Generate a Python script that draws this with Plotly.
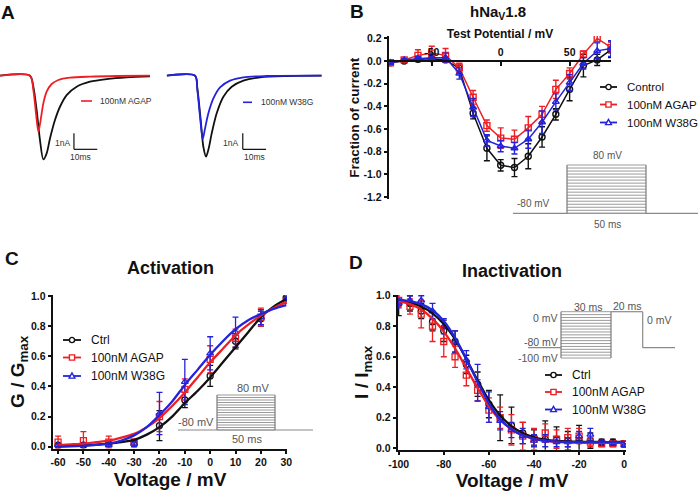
import plotly.graph_objects as go

W, H = 700, 495
FONT = "Liberation Sans, Arial, sans-serif"
BLACK = "#111111"
RED = "#ee1f24"
BLUE = "#2323dd"
GRAY = "#8a8a8a"

# ---------------- data ----------------
# Panel A: example current traces (time in ms, current in nA)
a_left_ctrl_t = [0, 12.86, 14.29, 15.71, 17.14, 18.57, 20.0, 21.43, 23.57, 25.71, 28.57, 32.86, 38.57, 45.71, 54.29, 64.29]
a_left_ctrl_i = [0, 0, -0.69, -2.15, -4.02, -5.23, -4.85, -3.92, -2.77, -1.94, -1.21, -0.69, -0.375, -0.21, -0.10, -0.04]
a_left_agap_t = [0, 12.86, 14.29, 15.43, 16.43, 17.43, 18.57, 20.0, 22.14, 25.0, 30.0, 38.57, 50.0, 64.29]
a_left_agap_i = [0, 0, -0.90, -2.35, -3.50, -2.77, -1.73, -1.00, -0.52, -0.27, -0.125, -0.06, -0.02, 0]
a_right_ctrl_t = [0, 12.14, 13.14, 14.57, 15.71, 16.86, 18.0, 19.29, 21.43, 24.29, 27.86, 32.86, 40.0, 51.43, 66.43]
a_right_ctrl_i = [0, 0, -0.79, -2.77, -4.44, -5.06, -4.54, -3.60, -2.35, -1.31, -0.69, -0.31, -0.10, -0.02, 0]
a_right_w38g_t = [0, 12.14, 13.14, 14.29, 15.43, 16.43, 17.86, 20.0, 22.86, 27.14, 32.86, 42.86, 66.43]
a_right_w38g_i = [0, 0, -0.90, -2.56, -3.96, -3.29, -2.35, -1.42, -0.73, -0.31, -0.10, -0.02, 0]

# Panel B: I-V relationship
b_v = [-80, -70, -60, -50, -40, -30, -20, -10, 0, 10, 20, 30, 40, 50, 60, 70, 80]
b_ctrl = [-0.015, 0.0, 0.015, 0.02, 0.01, -0.065, -0.46, -0.77, -0.92, -0.94, -0.84, -0.67, -0.47, -0.25, -0.04, 0.01, 0.10]
b_ctrl_err = [0.01, 0.01, 0.02, 0.02, 0.02, 0.04, 0.05, 0.11, 0.05, 0.08, 0.11, 0.09, 0.05, 0.10, 0.10, 0.05, 0.07]
b_agap = [-0.015, 0.01, 0.05, 0.07, 0.05, -0.06, -0.32, -0.57, -0.68, -0.69, -0.59, -0.47, -0.25, -0.11, 0.06, 0.20, 0.12]
b_agap_err = [0.01, 0.01, 0.05, 0.06, 0.06, 0.04, 0.06, 0.05, 0.09, 0.08, 0.10, 0.07, 0.08, 0.05, 0.03, 0.03, 0.05]
b_w38g = [-0.015, 0.01, 0.02, 0.03, 0.03, -0.11, -0.41, -0.70, -0.75, -0.77, -0.69, -0.54, -0.36, -0.19, -0.02, 0.09, 0.11]
b_w38g_err = [0.01, 0.01, 0.02, 0.03, 0.04, 0.05, 0.08, 0.05, 0.05, 0.05, 0.08, 0.10, 0.07, 0.07, 0.05, 0.07, 0.07]
b_xticks = [-50, 0, 50]
b_xticktext = ["-50", "0", "50"]
b_yticks = [0.2, 0.0, -0.2, -0.4, -0.6, -0.8, -1.0, -1.2]
b_yticktext = ["0.2", "0.0", "-0.2", "-0.4", "-0.6", "-0.8", "-1.0", "-1.2"]

# Panel C: activation
c_v = [-60, -50, -40, -30, -20, -10, 0, 10, 20, 30]
c_ctrl = [0.01, 0.01, 0.02, 0.02, 0.14, 0.31, 0.47, 0.70, 0.85, 0.99]
c_ctrl_err = [0.01, 0.01, 0.01, 0.02, 0.10, 0.05, 0.07, 0.05, 0.05, 0.01]
c_agap = [0.03, 0.04, 0.03, 0.03, 0.20, 0.38, 0.58, 0.72, 0.86, 0.97]
c_agap_err = [0.04, 0.06, 0.04, 0.02, 0.10, 0.07, 0.09, 0.06, 0.06, 0.01]
c_w38g = [0.01, 0.01, 0.01, 0.02, 0.22, 0.43, 0.62, 0.76, 0.86, 0.98]
c_w38g_err = [0.01, 0.01, 0.01, 0.02, 0.14, 0.15, 0.11, 0.10, 0.05, 0.01]
c_fit_v = [-60, -55, -50, -45, -40, -35, -30, -25, -20, -15, -10, -5, 0, 5, 10, 15, 20, 25, 30]
c_fit_ctrl = [0.003, 0.005, 0.008, 0.013, 0.02, 0.03, 0.045, 0.08, 0.13, 0.20, 0.29, 0.37, 0.46, 0.56, 0.66, 0.76, 0.86, 0.93, 0.98]
c_fit_agap = [0.01, 0.015, 0.02, 0.03, 0.04, 0.06, 0.085, 0.13, 0.19, 0.27, 0.36, 0.46, 0.56, 0.65, 0.74, 0.81, 0.87, 0.92, 0.96]
c_fit_w38g = [0.0, 0.002, 0.006, 0.012, 0.02, 0.04, 0.075, 0.13, 0.21, 0.30, 0.41, 0.51, 0.61, 0.70, 0.78, 0.84, 0.88, 0.915, 0.94]
c_xticks = [-60, -50, -40, -30, -20, -10, 0, 10, 20, 30]
c_xticktext = ["-60", "-50", "-40", "-30", "-20", "-10", "0", "10", "20", "30"]
frac_ticks = [0.0, 0.2, 0.4, 0.6, 0.8, 1.0]
frac_ticktext = ["0.0", "0.2", "0.4", "0.6", "0.8", "1.0"]

# Panel D: steady-state inactivation
d_v = [-100, -95, -90, -85, -80, -75, -70, -65, -60, -55, -50, -45, -40, -35, -30, -25, -20, -15, -10, -5, 0]
d_ctrl = [0.95, 0.95, 0.90, 0.83, 0.77, 0.70, 0.55, 0.42, 0.29, 0.20, 0.15, 0.10, 0.07, 0.06, 0.06, 0.05, 0.05, 0.05, 0.04, 0.04, 0.03]
d_ctrl_err = [0.08, 0.05, 0.05, 0.06, 0.07, 0.07, 0.06, 0.08, 0.09, 0.15, 0.12, 0.07, 0.05, 0.12, 0.08, 0.06, 0.10, 0.05, 0.02, 0.02, 0.02]
d_agap = [0.97, 0.93, 0.88, 0.80, 0.70, 0.60, 0.48, 0.38, 0.25, 0.20, 0.12, 0.08, 0.06, 0.10, 0.06, 0.07, 0.08, 0.04, 0.03, 0.03, 0.03]
d_agap_err = [0.04, 0.05, 0.09, 0.10, 0.10, 0.07, 0.07, 0.07, 0.08, 0.07, 0.10, 0.09, 0.07, 0.06, 0.06, 0.06, 0.05, 0.03, 0.02, 0.02, 0.02]
d_w38g = [0.95, 0.97, 0.97, 0.90, 0.80, 0.70, 0.58, 0.43, 0.27, 0.18, 0.12, 0.08, 0.05, 0.05, 0.04, 0.04, 0.08, 0.09, 0.04, 0.03, 0.02]
d_w38g_err = [0.03, 0.03, 0.03, 0.05, 0.05, 0.07, 0.06, 0.12, 0.10, 0.06, 0.05, 0.05, 0.04, 0.04, 0.03, 0.03, 0.03, 0.04, 0.01, 0.01, 0.01]
d_fit_ctrl = [0.97, 0.955, 0.93, 0.885, 0.815, 0.715, 0.585, 0.445, 0.315, 0.215, 0.145, 0.10, 0.072, 0.057, 0.049, 0.045, 0.043, 0.042, 0.041, 0.041, 0.041]
d_fit_agap = [0.965, 0.945, 0.91, 0.85, 0.765, 0.655, 0.525, 0.395, 0.275, 0.185, 0.125, 0.085, 0.062, 0.049, 0.042, 0.038, 0.036, 0.035, 0.035, 0.035, 0.035]
d_fit_w38g = [0.975, 0.965, 0.945, 0.905, 0.835, 0.725, 0.585, 0.435, 0.295, 0.19, 0.125, 0.085, 0.062, 0.05, 0.044, 0.041, 0.04, 0.04, 0.04, 0.04, 0.04]
d_xticks = [-100, -80, -60, -40, -20, 0]
d_xticktext = ["-100", "-80", "-60", "-40", "-20", "0"]

legend_names = ["Control", "100nM AGAP", "100nM W38G"]
legend_names_short = ["Ctrl", "100nM AGAP", "100nM W38G"]


# ---------------- helpers ----------------
def fx(px):
    return px / W


def fy(py):
    return 1 - py / H


def dom_x(x0, x1):
    return [x0 / W, x1 / W]


def dom_y(top, bottom):
    return [1 - bottom / H, 1 - top / H]


def bold(size):
    return dict(family=FONT, size=size, color=BLACK, weight="bold")


def reg(size, color=BLACK):
    return dict(family=FONT, size=size, color=color)


fig = go.Figure()

# ---------------- Panel A traces ----------------
for t, i, col, ax in [
    (a_left_ctrl_t, a_left_ctrl_i, BLACK, 1),
    (a_left_agap_t, a_left_agap_i, RED, 1),
    (a_right_ctrl_t, a_right_ctrl_i, BLACK, 2),
    (a_right_w38g_t, a_right_w38g_i, BLUE, 2),
]:
    fig.add_trace(go.Scatter(
        x=t, y=i, mode="lines", line=dict(color=col, width=1.8, shape="spline", smoothing=0.8),
        xaxis="x" if ax == 1 else "x2", yaxis="y" if ax == 1 else "y2",
        showlegend=False, hoverinfo="skip"))

# ---------------- Panel B traces ----------------
for ys, es, col, sym in [
    (b_ctrl, b_ctrl_err, BLACK, "circle-open"),
    (b_agap, b_agap_err, RED, "square-open"),
    (b_w38g, b_w38g_err, BLUE, "triangle-up-open"),
]:
    fig.add_trace(go.Scatter(
        x=b_v, y=ys, mode="lines+markers", xaxis="x3", yaxis="y3",
        line=dict(color=col, width=1.5),
        marker=dict(symbol=sym, size=6, color=col, line=dict(width=1.4, color=col)),
        error_y=dict(type="data", array=es, color=col, thickness=1.4, width=3),
        showlegend=False))

# ---------------- Panel C traces ----------------
for ys, es, col, sym in [
    (c_ctrl, c_ctrl_err, BLACK, "circle-open"),
    (c_agap, c_agap_err, RED, "square-open"),
    (c_w38g, c_w38g_err, BLUE, "triangle-up-open"),
]:
    fig.add_trace(go.Scatter(
        x=c_v, y=ys, mode="markers", xaxis="x4", yaxis="y4",
        marker=dict(symbol=sym, size=6, color=col, line=dict(width=1.3, color=col)),
        error_y=dict(type="data", array=es, color=col, thickness=1.3, width=3),
        showlegend=False))
for ys, col in [(c_fit_ctrl, BLACK), (c_fit_agap, RED), (c_fit_w38g, BLUE)]:
    fig.add_trace(go.Scatter(
        x=c_fit_v, y=ys, mode="lines", xaxis="x4", yaxis="y4",
        line=dict(color=col, width=2.3, shape="spline", smoothing=0.6),
        showlegend=False, hoverinfo="skip"))

# ---------------- Panel D traces ----------------
for ys, es, col, sym in [
    (d_ctrl, d_ctrl_err, BLACK, "circle-open"),
    (d_agap, d_agap_err, RED, "square-open"),
    (d_w38g, d_w38g_err, BLUE, "triangle-up-open"),
]:
    fig.add_trace(go.Scatter(
        x=d_v, y=ys, mode="markers", xaxis="x5", yaxis="y5",
        marker=dict(symbol=sym, size=6, color=col, line=dict(width=1.3, color=col)),
        error_y=dict(type="data", array=es, color=col, thickness=1.3, width=3),
        showlegend=False))
for ys, col in [(d_fit_ctrl, BLACK), (d_fit_agap, RED), (d_fit_w38g, BLUE)]:
    fig.add_trace(go.Scatter(
        x=d_v, y=ys, mode="lines", xaxis="x5", yaxis="y5",
        line=dict(color=col, width=2.3, shape="spline", smoothing=0.6),
        showlegend=False, hoverinfo="skip"))

# ---------------- axes ----------------
hidden = dict(visible=False, showgrid=False, zeroline=False, fixedrange=True, automargin=False)
A_Y_RANGE = [-5.89, 0.98]

b_xdom = dom_x(389, 611)
b_ydom_px = (36.1, 199.3)
b_yrange = [-1.22, 0.22]
zero_py = b_ydom_px[0] + (b_yrange[1] - 0) / (b_yrange[1] - b_yrange[0]) * (b_ydom_px[1] - b_ydom_px[0])

axis_common = dict(showgrid=False, zeroline=False, showline=True, linecolor=BLACK, linewidth=1.6,
                   ticks="outside", ticklen=3.5, tickwidth=1.5, tickcolor=BLACK, automargin=False)

fig.update_layout(
    template="none",
    width=W, height=H, autosize=False,
    margin=dict(l=0, r=0, t=0, b=0, pad=0),
    paper_bgcolor="white", plot_bgcolor="white",
    showlegend=False,
    font=dict(family=FONT, color=BLACK),
    xaxis=dict(domain=dom_x(0, 150), range=[0, 64.3], anchor="y", **hidden),
    yaxis=dict(domain=dom_y(60, 170), range=A_Y_RANGE, anchor="x", **hidden),
    xaxis2=dict(domain=dom_x(166.7, 321.7), range=[0, 66.43], anchor="y2", **hidden),
    yaxis2=dict(domain=dom_y(60, 170), range=A_Y_RANGE, anchor="x2", **hidden),
    xaxis3=dict(domain=b_xdom, range=[-81, 80], anchor="free", position=fy(zero_py), side="top",
                showgrid=False, zeroline=False, showline=True, linecolor=BLACK, linewidth=1.6,
                ticks="inside", ticklen=4, tickwidth=1.5, tickcolor=BLACK, automargin=False,
                tickvals=b_xticks, ticktext=b_xticktext, tickfont=bold(10.5),
                title=dict(text="Test Potential / mV", font=bold(12), standoff=4)),
    yaxis3=dict(domain=dom_y(*b_ydom_px), range=b_yrange, anchor="x3",
                tickvals=b_yticks, ticktext=b_yticktext, tickfont=bold(10.5),
                title=dict(text="Fraction of current", font=bold(13.5), standoff=1), **axis_common),
    xaxis4=dict(domain=dom_x(53, 287), range=[-62, 30.3], anchor="y4",
                tickvals=c_xticks, ticktext=c_xticktext, tickfont=bold(10.5),
                title=dict(text="Voltage / mV", font=bold(19), standoff=5), **axis_common),
    yaxis4=dict(domain=dom_y(295.3, 448.5), range=[-0.012, 1.005], anchor="x4",
                tickvals=frac_ticks, ticktext=frac_ticktext, tickfont=bold(10.5),
                title=dict(text="G / G<sub>max</sub>", font=bold(19), standoff=0), **axis_common),
    xaxis5=dict(domain=dom_x(398, 626), range=[-100.3, 0.8], anchor="y5",
                tickvals=d_xticks, ticktext=d_xticktext, tickfont=bold(10.5),
                title=dict(text="Voltage / mV", font=bold(19), standoff=5), **axis_common),
    yaxis5=dict(domain=dom_y(295, 449.8), range=[-0.01, 1.005], anchor="x5",
                tickvals=frac_ticks, ticktext=frac_ticktext, tickfont=bold(10.5),
                title=dict(text="I / I<sub>max</sub>", font=bold(19), standoff=2), **axis_common),
)

shapes = []
annots = []


def pline(x0, y0, x1, y1, color=GRAY, width=1.2):
    shapes.append(dict(type="line", xref="paper", yref="paper", x0=fx(x0), y0=fy(y0),
                       x1=fx(x1), y1=fy(y1), line=dict(color=color, width=width)))


def ptext(x, y, text, font, xanchor="center", yanchor="middle"):
    annots.append(dict(xref="paper", yref="paper", x=fx(x), y=fy(y), text=text, showarrow=False,
                       font=font, xanchor=xanchor, yanchor=yanchor))


def pmarker(cx, cy, kind, color, r=3.0):
    if kind == "circle":
        shapes.append(dict(type="circle", xref="paper", yref="paper", x0=fx(cx - r), x1=fx(cx + r),
                           y0=fy(cy + r), y1=fy(cy - r), line=dict(color=color, width=1.4),
                           fillcolor="white"))
    elif kind == "square":
        shapes.append(dict(type="rect", xref="paper", yref="paper", x0=fx(cx - r), x1=fx(cx + r),
                           y0=fy(cy + r), y1=fy(cy - r), line=dict(color=color, width=1.4),
                           fillcolor="white"))
    else:
        path = "M {:.5f},{:.5f} L {:.5f},{:.5f} L {:.5f},{:.5f} Z".format(
            fx(cx), fy(cy - r - 0.5), fx(cx - r - 0.3), fy(cy + r - 0.5), fx(cx + r + 0.3), fy(cy + r - 0.5))
        shapes.append(dict(type="path", xref="paper", yref="paper", path=path,
                           line=dict(color=color, width=1.4), fillcolor="white"))


def legend_block(x0, x1, ys, names, size, tx):
    for y, name, col, kind in zip(ys, names, [BLACK, RED, BLUE], ["circle", "square", "triangle"]):
        pline(x0, y, x1, y, color=col, width=1.8)
        pmarker((x0 + x1) / 2, y, kind, col, r=2.6)
        ptext(tx, y, name, reg(size), xanchor="left")


def hatched_rect(x0, x1, top, bottom, n):
    for k in range(n):
        y = top + (bottom - top) * k / (n - 1)
        pline(x0, y, x1, y, color="#9a9a9a", width=1)
    pline(x0, top, x0, bottom, color="#7a7a7a", width=1.2)
    pline(x1, top, x1, bottom, color="#7a7a7a", width=1.2)


# ---------------- Panel A decorations ----------------
for xr, yr, tv, lab_t, ms_t in [("x", "y", 31.7, 31.0, 34.3), ("x2", "y2", 32.6, 31.4, 37.8)]:
    shapes.append(dict(type="line", xref=xr, yref=yr, x0=tv, x1=tv, y0=-4.6, y1=-3.6,
                       line=dict(color=BLACK, width=1.2)))
    shapes.append(dict(type="line", xref=xr, yref=yr, x0=tv, x1=tv + 10, y0=-4.6, y1=-4.6,
                       line=dict(color=BLACK, width=1.2)))
    annots.append(dict(xref=xr, yref=yr, x=lab_t, y=-4.19, text="1nA", showarrow=False,
                       font=reg(8.5, "#333333"), xanchor="right", yanchor="middle"))
    annots.append(dict(xref=xr, yref=yr, x=ms_t, y=-5.1, text="10ms", showarrow=False,
                       font=reg(8.5, "#333333"), xanchor="center", yanchor="middle"))
pline(81, 101, 92, 101, color=RED, width=1.6)
ptext(98, 101, "100nM AGAP", reg(8.5, "#333333"), xanchor="left")
pline(243, 102.3, 252, 102.3, color=BLUE, width=1.6)
ptext(259, 102.3, "100nM W38G", reg(8.5, "#333333"), xanchor="left")

# ---------------- Panel letters & titles ----------------
ptext(8, 12, "A", bold(19))
ptext(357, 11, "B", bold(19))
ptext(12, 258, "C", bold(19))
ptext(356, 262, "D", bold(19))
ptext(498, 13, "hNa<sub>V</sub>1.8", bold(15))
ptext(170, 268, "Activation", bold(18))
ptext(512, 271, "Inactivation", bold(18))

# ---------------- legends ----------------
legend_block(600, 617, [87, 104.5, 122.5], legend_names, 11.5, 625)
legend_block(63, 81, [340, 357.5, 376], legend_names_short, 12, 89)
legend_block(545, 562, [375, 392, 409.5], legend_names_short, 12, 570)

# ---------------- protocol insets ----------------
# B
INS = "#555555"
pline(513, 213.3, 698, 213.3)
hatched_rect(567, 646, 165, 213.3, 17)
ptext(607, 155, "80 mV", reg(10, INS))
ptext(533, 203, "-80 mV", reg(10, INS))
ptext(607, 224, "50 ms", reg(10, INS))
# C
pline(178, 430, 313, 430)
hatched_rect(217, 275, 395, 430, 15)
ptext(253, 388, "80 mV", reg(11, INS))
ptext(216, 422, "-80 mV", reg(11, INS), xanchor="right")
ptext(247, 438.5, "50 ms", reg(11, INS))
# D
pline(528, 347.7, 561, 347.7)
hatched_rect(561, 611, 311.7, 358, 17)
pline(611, 311.7, 642.7, 311.7)
pline(642.7, 311.7, 642.7, 347.7)
pline(642.7, 347.7, 675, 347.7)
ptext(560, 317.7, "0 mV", reg(10.5, INS), xanchor="right")
ptext(560, 341.7, "-80 mV", reg(10.5, INS), xanchor="right")
ptext(560, 358, "-100 mV", reg(10.5, INS), xanchor="right")
ptext(588, 306.5, "30 ms", reg(10.5, INS))
ptext(627, 306, "20 ms", reg(10.5, INS))
ptext(645, 320, "0 mV", reg(10.5, INS), xanchor="left")

fig.update_layout(shapes=shapes, annotations=annots)
fig.write_html("out.html", config={"displayModeBar": False},
               post_script="document.body.style.margin='0px';document.body.style.padding='0px';")
